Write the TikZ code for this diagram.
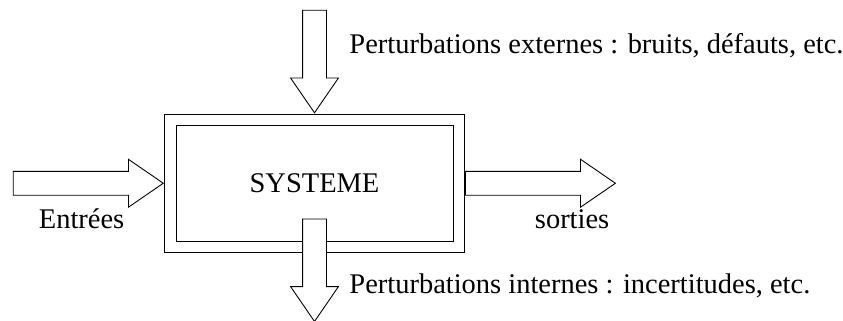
\documentclass[tikz,border=0pt]{standalone}
\usepackage{fontspec}
\setmainfont{Liberation Serif}
\usetikzlibrary{shapes.arrows}

\begin{document}
\begin{tikzpicture}[line width=0.5pt, font=\fontsize{16.2}{19}\selectfont,
    bigarrow/.style={single arrow, draw, fill=white, inner xsep=0pt, inner ysep=0.23cm,
      minimum height=3cm, single arrow head extend=0.24cm, single arrow tip angle=69},
    downarrow/.style={bigarrow, inner xsep=0.23cm, inner ysep=0pt,
      minimum height=2.05cm, shape border rotate=270},
    label/.style={inner sep=0pt, anchor=base west}]
    \useasboundingbox (0,0) rectangle (16.86,6.4);

    % Systeme
    \node (sys) at (6.29,2.735) [draw, minimum width=6cm, minimum height=2.77cm] {};
    \node (inner) at (sys.center) [draw, minimum width=5.54cm, minimum height=2.31cm] {SYSTEME};

    % Entrees et sorties
    \node (in) at (sys.west) [bigarrow, anchor=tip] {};
    \node (out) at (sys.east) [bigarrow, anchor=tail] {};
    \node[label] at (0.77,1.84) {Entrées};
    \node[label] at (10.69,1.84) {sorties};

    % Perturbations
    \node (ext) at (sys.north) [downarrow, anchor=tip] {};
    \node (int) at (6.29,2.03) [downarrow, anchor=tail] {};
    \node[label] at (6.98,5.34) {Perturbations externes : bruits, défauts, etc.};
    \node[label] at (6.98,0.53) {Perturbations internes : incertitudes, etc.};
\end{tikzpicture}
\end{document}
